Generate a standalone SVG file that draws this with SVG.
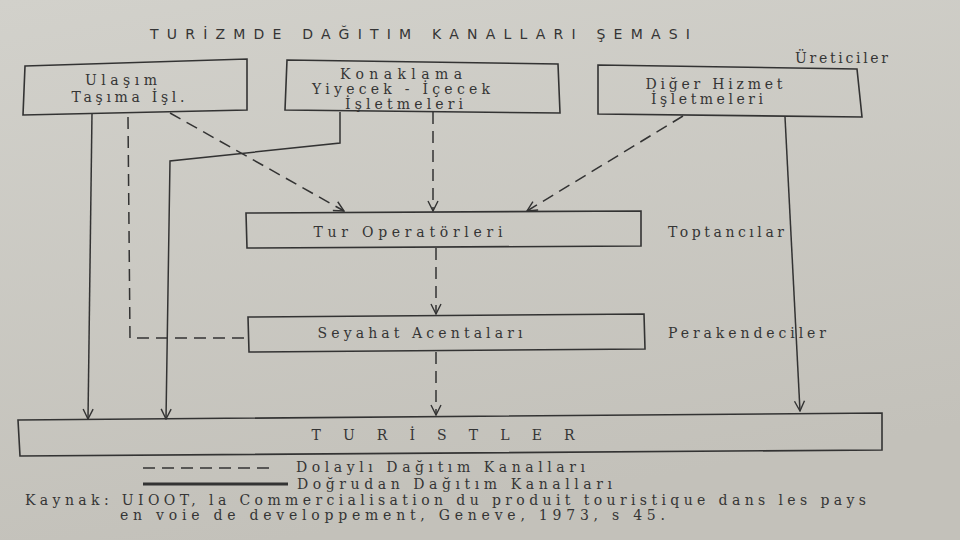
<svg xmlns="http://www.w3.org/2000/svg" width="960" height="540" viewBox="0 0 960 540">
<defs>
<linearGradient id="bg" x1="0" y1="0" x2="0.3" y2="1">
<stop offset="0" stop-color="#d2d1cb"/>
<stop offset="1" stop-color="#c3c1ba"/>
</linearGradient>
<marker id="arr" viewBox="0 0 12 12" refX="11" refY="6" markerWidth="12" markerHeight="12" markerUnits="userSpaceOnUse" orient="auto">
<polyline points="1,1 11,6 1,11" fill="none" stroke="#333" stroke-width="1.4"/>
</marker>
</defs>
<style>
.box{fill:none;stroke:#333;stroke-width:1.6}
.solid{fill:none;stroke:#333;stroke-width:1.5}
.dash{fill:none;stroke:#333;stroke-width:1.5;stroke-dasharray:12 7}
text{font-family:"DejaVu Serif","Liberation Serif",serif;fill:#353535;font-size:14px}
.c{text-anchor:middle}
.t{font-family:"DejaVu Sans","Liberation Sans",sans-serif;font-size:14px}
</style>
<rect width="960" height="540" fill="url(#bg)"/>

<text class="t" x="150" y="39" textLength="540" lengthAdjust="spacing">TURİZMDE DAĞITIM KANALLARI ŞEMASI</text>
<text x="795" y="63" font-size="13" textLength="93" lengthAdjust="spacing">Üreticiler</text>
<text x="668" y="237" font-size="13" textLength="116" lengthAdjust="spacing">Toptancılar</text>
<text x="668" y="338" font-size="13" textLength="158" lengthAdjust="spacing">Perakendeciler</text>

<g id="connectors">
<polyline class="solid" points="92,113 88,419" marker-end="url(#arr)"/>
<polyline class="dash" points="128,117 130,338 248,338"/>
<polyline class="dash" points="170,113 344,211" marker-end="url(#arr)"/>
<polyline class="solid" points="340,112 340,143 170,161 166,419" marker-end="url(#arr)"/>
<polyline class="dash" points="433,112 433,211" marker-end="url(#arr)"/>
<polyline class="dash" points="683,116 527,211" marker-end="url(#arr)"/>
<polyline class="solid" points="785,117 800,411" marker-end="url(#arr)"/>
<polyline class="dash" points="436,248 436,314" marker-end="url(#arr)"/>
<polyline class="dash" points="436,352 436,415" marker-end="url(#arr)"/>
</g>

<g id="ulasim">
<polygon class="box" points="25,66 247,59 247,110 23,115"/>
<text class="c" x="121" y="85" textLength="72" lengthAdjust="spacing">Ulaşım</text>
<text class="c" x="128" y="102" textLength="113" lengthAdjust="spacing">Taşıma İşl.</text>
</g>

<g id="konaklama">
<polygon class="box" points="287,60 558,64 560,113 285,110"/>
<text class="c" x="401" y="79" textLength="122" lengthAdjust="spacing">Konaklama</text>
<text class="c" x="401" y="94" textLength="178" lengthAdjust="spacing">Yiyecek - İçecek</text>
<text class="c" x="404" y="109" textLength="118" lengthAdjust="spacing">İşletmeleri</text>
</g>

<g id="diger">
<polygon class="box" points="598,65 857,69 862,117 598,114"/>
<text class="c" x="714" y="89" textLength="137" lengthAdjust="spacing">Diğer Hizmet</text>
<text class="c" x="707" y="104" textLength="112" lengthAdjust="spacing">İşletmeleri</text>
</g>

<g id="turop">
<polygon class="box" points="246,213 641,211 641,246 247,248"/>
<text class="c" x="408" y="237" textLength="189" lengthAdjust="spacing">Tur  Operatörleri</text>
</g>

<g id="seyahat">
<polygon class="box" points="248,317 644,314 645,349 249,352"/>
<text class="c" x="420" y="338" textLength="205" lengthAdjust="spacing">Seyahat Acentaları</text>
</g>

<g id="turistler">
<polygon class="box" points="18,420 882,413 882,450 20,456"/>
<text class="c" x="443" y="440" font-size="13" textLength="263" lengthAdjust="spacing">T U R İ S T L E R</text>
</g>

<g id="legend">
<line class="dash" x1="143" y1="468" x2="275" y2="468" stroke-dasharray="20 12"/>
<text x="296" y="472" font-size="15" textLength="289" lengthAdjust="spacing">Dolaylı Dağıtım Kanalları</text>
<line x1="143" y1="484" x2="288" y2="484" stroke="#333" stroke-width="3"/>
<text x="297" y="489" font-size="15" textLength="315" lengthAdjust="spacing">Doğrudan Dağıtım Kanalları</text>
<text x="25" y="505" font-size="15" textLength="841" lengthAdjust="spacing">Kaynak: UIOOT, la Commercialisation du produit touristique dans les pays</text>
<text x="120" y="520" font-size="15" textLength="545" lengthAdjust="spacing">en voie de developpement, Geneve, 1973, s  45.</text>
</g>
</svg>
